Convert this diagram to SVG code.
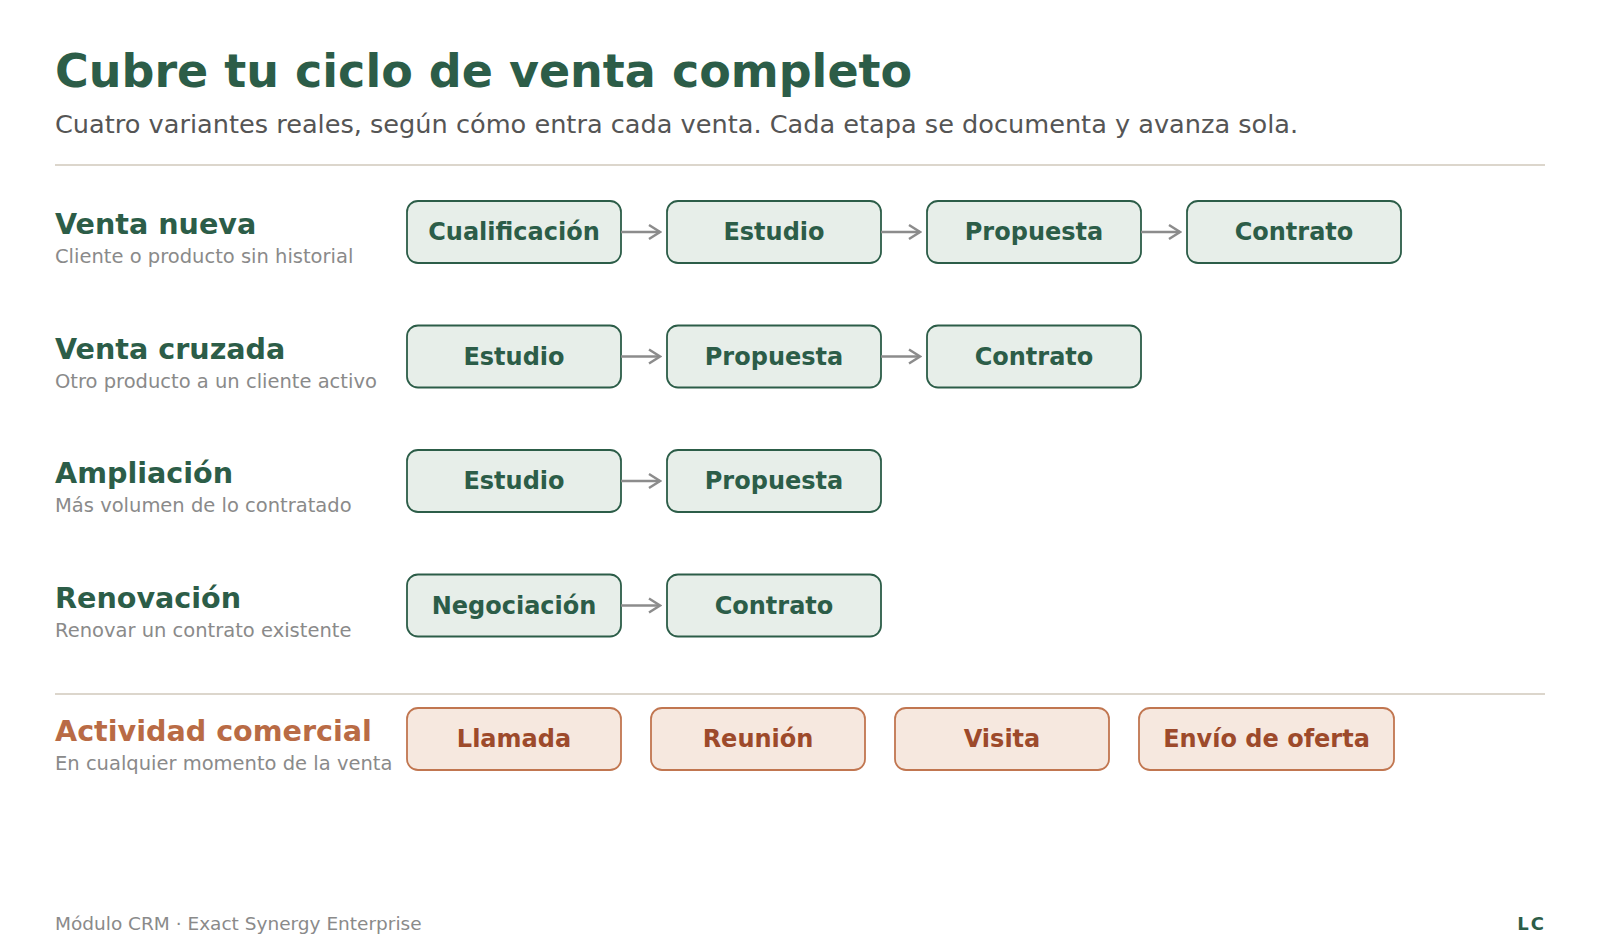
<svg xmlns="http://www.w3.org/2000/svg" width="1600" height="949" viewBox="0 0 1600 949">
<defs>
<marker id="arr" viewBox="0 0 14 17" refX="12.5" refY="8.5" markerWidth="14" markerHeight="17" markerUnits="userSpaceOnUse" orient="auto">
<path d="M1.5,1.5 L12.5,8.5 L1.5,15.5" fill="none" stroke="#8c8c8c" stroke-width="2.4"/>
</marker>
<style>
text{font-family:"DejaVu Sans","Liberation Sans",sans-serif}
.title{font-size:46px;font-weight:bold;fill:#2c5d48}
.sub{font-size:25.6px;fill:#555555}
.rl{font-size:28.6px;font-weight:bold;fill:#2c5d48}
.rs{font-size:19.5px;fill:#8a8a8a}
.al{font-size:28.6px;font-weight:bold;fill:#b96b45}
.g rect{fill:#e7eee9;stroke:#2c5d48;stroke-width:1.8}
.g text{font-size:24px;font-weight:bold;fill:#2c5d48;text-anchor:middle}
.o rect{fill:#f6e8df;stroke:#c17650;stroke-width:1.8}
.o text{font-size:24px;font-weight:bold;fill:#9d4a2b;text-anchor:middle}
.div{stroke:#dcd6cc;stroke-width:2}
.c line{stroke:#8c8c8c;stroke-width:2.6;marker-end:url(#arr)}
.foot{font-size:18.5px;fill:#8a8a8a}
.lc{font-size:18px;font-weight:bold;fill:#2c5d48;letter-spacing:2px}
</style>
</defs>
<rect width="1600" height="949" fill="#ffffff"/>
<g id="header">
<text class="title" x="55" y="87">Cubre tu ciclo de venta completo</text>
<text class="sub" x="55" y="133">Cuatro variantes reales, según cómo entra cada venta. Cada etapa se documenta y avanza sola.</text>
<line class="div" x1="55" y1="165" x2="1545" y2="165"/>
</g>
<g id="row-venta-nueva">
<text class="rl" x="55" y="234">Venta nueva</text>
<text class="rs" x="55" y="263">Cliente o producto sin historial</text>
</g>
<g id="n1-cualificacion" class="g"><rect x="407" y="201" width="214" height="62" rx="11"/><text x="514" y="240">Cualificación</text></g>
<g id="n1-estudio" class="g"><rect x="667" y="201" width="214" height="62" rx="11"/><text x="774" y="240">Estudio</text></g>
<g id="n1-propuesta" class="g"><rect x="927" y="201" width="214" height="62" rx="11"/><text x="1034" y="240">Propuesta</text></g>
<g id="n1-contrato" class="g"><rect x="1187" y="201" width="214" height="62" rx="11"/><text x="1294" y="240">Contrato</text></g>

<g id="row-venta-cruzada">
<text class="rl" x="55" y="358.5">Venta cruzada</text>
<text class="rs" x="55" y="387.5">Otro producto a un cliente activo</text>
</g>
<g id="n2-estudio" class="g"><rect x="407" y="325.5" width="214" height="62" rx="11"/><text x="514" y="364.5">Estudio</text></g>
<g id="n2-propuesta" class="g"><rect x="667" y="325.5" width="214" height="62" rx="11"/><text x="774" y="364.5">Propuesta</text></g>
<g id="n2-contrato" class="g"><rect x="927" y="325.5" width="214" height="62" rx="11"/><text x="1034" y="364.5">Contrato</text></g>

<g id="row-ampliacion">
<text class="rl" x="55" y="483">Ampliación</text>
<text class="rs" x="55" y="512">Más volumen de lo contratado</text>
</g>
<g id="n3-estudio" class="g"><rect x="407" y="450" width="214" height="62" rx="11"/><text x="514" y="489">Estudio</text></g>
<g id="n3-propuesta" class="g"><rect x="667" y="450" width="214" height="62" rx="11"/><text x="774" y="489">Propuesta</text></g>

<g id="row-renovacion">
<text class="rl" x="55" y="607.5">Renovación</text>
<text class="rs" x="55" y="636.5">Renovar un contrato existente</text>
</g>
<g id="n4-negociacion" class="g"><rect x="407" y="574.5" width="214" height="62" rx="11"/><text x="514" y="613.5">Negociación</text></g>
<g id="n4-contrato" class="g"><rect x="667" y="574.5" width="214" height="62" rx="11"/><text x="774" y="613.5">Contrato</text></g>

<g id="connectors" class="c">
<line x1="621" y1="232" x2="660" y2="232"/>
<line x1="881" y1="232" x2="920" y2="232"/>
<line x1="1141" y1="232" x2="1180" y2="232"/>
<line x1="621" y1="356.5" x2="660" y2="356.5"/>
<line x1="881" y1="356.5" x2="920" y2="356.5"/>
<line x1="621" y1="481" x2="660" y2="481"/>
<line x1="621" y1="605.5" x2="660" y2="605.5"/>
</g>

<line class="div" x1="55" y1="694" x2="1545" y2="694"/>
<g id="row-actividad">
<text class="al" x="55" y="741">Actividad comercial</text>
<text class="rs" x="55" y="770">En cualquier momento de la venta</text>
</g>
<g id="a-llamada" class="o"><rect x="407" y="708" width="214" height="62" rx="11"/><text x="514" y="747">Llamada</text></g>
<g id="a-reunion" class="o"><rect x="651" y="708" width="214" height="62" rx="11"/><text x="758" y="747">Reunión</text></g>
<g id="a-visita" class="o"><rect x="895" y="708" width="214" height="62" rx="11"/><text x="1002" y="747">Visita</text></g>
<g id="a-envio" class="o"><rect x="1139" y="708" width="255" height="62" rx="11"/><text x="1266.5" y="747">Envío de oferta</text></g>

<g id="footer">
<text class="foot" x="55" y="930">Módulo CRM · Exact Synergy Enterprise</text>
<text class="lc" x="1546" y="930" text-anchor="end">LC</text>
</g>
</svg>
